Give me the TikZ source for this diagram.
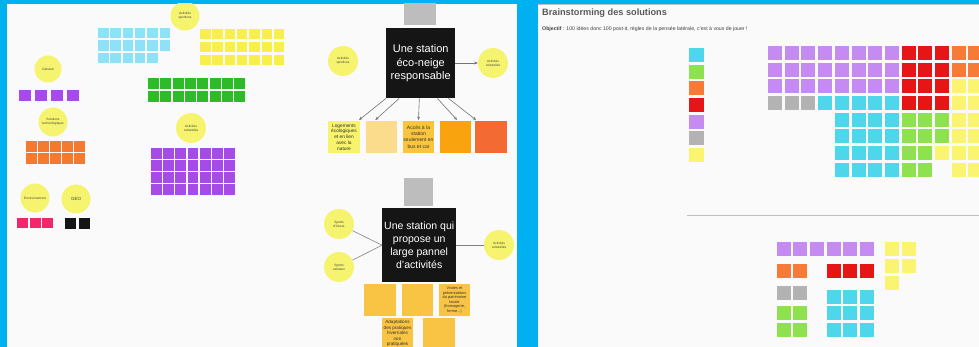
\documentclass[tikz,border=0pt]{standalone}
\usepackage{fontspec}
\setmainfont{Liberation Sans}
\usetikzlibrary{arrows.meta,calc}
\definecolor{bg}{HTML}{00B0F0}
\definecolor{panel}{HTML}{FAFAFA}
\definecolor{circY}{HTML}{F6F46E}
\definecolor{cyanL}{HTML}{8FE1F7}
\definecolor{yelL}{HTML}{F9EF4B}
\definecolor{greenL}{HTML}{2DBB2A}
\definecolor{purL}{HTML}{A74BE8}
\definecolor{oraL}{HTML}{F47A30}
\definecolor{pinkL}{HTML}{F0286B}
\definecolor{blackL}{HTML}{151515}
\definecolor{grayN}{HTML}{BDBDBD}
\definecolor{nA}{HTML}{F7F36B}
\definecolor{nB}{HTML}{FBDB8C}
\definecolor{nC}{HTML}{F9C53E}
\definecolor{nD}{HTML}{F9A30F}
\definecolor{nE}{HTML}{F36B33}
\definecolor{oraB}{HTML}{F9C443}
\definecolor{cyanR}{HTML}{4ED6EA}
\definecolor{greenR}{HTML}{8EE24F}
\definecolor{oraR}{HTML}{F77A37}
\definecolor{redR}{HTML}{E71616}
\definecolor{purR}{HTML}{C58BF3}
\definecolor{grayR}{HTML}{B3B3B3}
\definecolor{yelR}{HTML}{FAF470}
\newcommand{\fsz}[2]{\fontsize{#1}{#2}\selectfont}
\begin{document}
\begin{tikzpicture}[x=1pt,y=-1pt,
  note/.style={anchor=north west,inner sep=0pt,outer sep=0pt,draw=none},
  circ/.style={circle,fill=circY,inner sep=0pt,minimum size=29pt,align=center,font=\fsz{3.2}{3.8},text=black!75},
  bigbox/.style={anchor=north west,fill=blackL,text=white,align=center,inner sep=0pt},
  txtnote/.style={note,align=center,text=black!80},
  arr/.style={-{Stealth[length=3.5pt,width=3pt]},draw=black!55,line width=0.6pt},
  lnk/.style={draw=black!50,line width=0.6pt}]
\useasboundingbox (0,0) rectangle (979,347);
\fill[bg] (0,0) rectangle (979,347);
% ---------- left panel ----------
\fill[panel] (7,4) rectangle (517,347);
\begin{scope}
\clip (7,4) rectangle (517,347);
% circles
\node[circ] (sport1) at (185,16) {Activités\\sportives};
\node[circ,minimum size=27pt] (gen) at (48,69) {Général};
\node[circ] (tech) at (53,122) {Solutions\\technologiques};
\node[circ,minimum size=30pt] (cult1) at (191,128) {Activités\\culturelles};
\node[circ] (env) at (35,198) {Environnement};
\node[circ,font=\fsz{4.5}{5}] (geo) at (76,199) {GEO};
% cyan grid
\foreach \c in {0,...,5}{\foreach \r in {0,1}{
  \node[note,fill=cyanL,minimum size=10.5pt] (cy\c\r) at ({98+12.3*\c},{28+12.4*\r}) {};}}
\foreach \c in {0,...,4}{
  \node[note,fill=cyanL,minimum size=10.5pt] (cy\c2) at ({98+12.3*\c},{52.8}) {};}
% yellow grid
\foreach \c in {0,...,6}{\foreach \r in {0,1,2}{
  \node[note,fill=yelL,minimum size=10.5pt] (ye\c\r) at ({200+12.3*\c},{29+12.8*\r}) {};}}
% green grid
\foreach \c in {0,...,7}{\foreach \r in {0,1}{
  \node[note,fill=greenL,minimum size=11pt] (gr\c\r) at ({148+12.3*\c},{78+12.6*\r}) {};}}
% purple grid
\foreach \c in {0,...,6}{\foreach \r in {0,...,3}{
  \node[note,fill=purL,minimum size=10.8pt] (pu\c\r) at ({151+12.2*\c},{148+12*\r}) {};}}
% orange grid
\foreach \c in {0,...,4}{\foreach \r in {0,1}{
  \node[note,fill=oraL,minimum size=11pt] (or\c\r) at ({26+12*\c},{141+12*\r}) {};}}
% general purples
\foreach \x [count=\i] in {19,35,51,67}{
  \node[note,fill=purL,minimum size=11.5pt] (gp\i) at (\x,90) {};}
% pink and black
\foreach \x [count=\i] in {17,30,42}{
  \node[note,fill=pinkL,minimum size=10.5pt] (pk\i) at (\x,218) {};}
\foreach \x [count=\i] in {65,79}{
  \node[note,fill=blackL,minimum size=11pt] (bk\i) at (\x,218) {};}
% ---- cluster 1 ----
\node[note,fill=grayN,minimum width=32pt,minimum height=25pt] (g1) at (404,0) {};
\node[bigbox,minimum width=69pt,minimum height=70pt,font=\fsz{11}{13.5}] (b1) at (386,28) {Une station\\éco-neige\\responsable};
\node[circ,minimum size=30pt] (sp2) at (343,61) {Activités\\sportives};
\node[circ,minimum size=30pt] (cu2) at (493,63) {Activités\\culturelles};
\draw[arr] (b1.east |- cu2) -- (cu2);
\node[txtnote,fill=nA,minimum width=32pt,minimum height=32pt,font=\fsz{4.8}{5.8}] (n1) at (328,121) {Logements\\écologiques\\et en lien\\avec la\\nature};
\node[note,fill=nB,minimum width=31pt,minimum height=32pt] (n2) at (366,121) {};
\node[txtnote,fill=nC,minimum width=31pt,minimum height=32pt,font=\fsz{5}{6.3}] (n3) at (403,121) {Accès à la\\station\\seulement en\\bus et car};
\node[note,fill=nD,minimum width=31pt,minimum height=32pt] (n4) at (440,121) {};
\node[note,fill=nE,minimum width=32pt,minimum height=32pt] (n5) at (475,121) {};
\coordinate (s1) at ($(b1.south west)!0.0!(b1.south east)$);
\coordinate (s2) at ($(b1.south west)!0.19!(b1.south east)$);
\coordinate (s3) at ($(b1.south west)!0.48!(b1.south east)$);
\coordinate (s4) at ($(b1.south west)!0.74!(b1.south east)$);
\coordinate (s5) at ($(b1.south west)!0.9!(b1.south east)$);
\draw[arr] (s1) -- ($(n1.north east)+(-1,-1)$);
\draw[arr] (s2) -- ($(n2.north west)!0.3!(n2.north east)+(0,-1)$);
\draw[arr] (s3) -- ($(n3.north)+(0,-1)$);
\draw[arr] (s4) -- ($(n4.north west)!0.55!(n4.north east)+(0,-1)$);
\draw[arr] (s5) -- ($(n5.north west)+(1,-1)$);
% ---- cluster 2 ----
\node[note,fill=grayN,minimum width=29pt,minimum height=28pt] (g2) at (404,178) {};
\node[bigbox,minimum width=74pt,minimum height=74pt,font=\fsz{10.5}{13}] (b2) at (382,208) {Une station qui\\propose un\\large pannel\\d'activités};
\node[circ,minimum size=30pt] (hiv) at (339,224) {Sports\\d'hivers};
\node[circ,minimum size=30pt] (est) at (339,267) {Sports\\estivaux};
\node[circ,minimum size=30pt] (cu3) at (499,245) {Activités\\culturelles};
\draw[lnk] (hiv) -- (b2.west);
\draw[lnk] (est) -- (b2.west);
\draw[lnk] (b2.east |- cu3) -- (cu3);
\node[note,fill=oraB,minimum width=32pt,minimum height=32pt] (m1) at (364,284) {};
\node[note,fill=oraB,minimum width=31pt,minimum height=32pt] (m2) at (402,284) {};
\node[txtnote,fill=oraB,minimum width=31pt,minimum height=32pt,font=\fsz{3.9}{4.6}] (m3) at (439,284) {Visites et\\présentations\\du patrimoine\\locale\\(fromagerie,\\ferme...)};
\node[note,fill=oraB,minimum width=31pt,minimum height=34pt] (m4) at (382,318) {};
\node[anchor=north,align=center,inner sep=0pt,text=black!80,font=\fsz{4.6}{5.5}] (m4t) at ($(m4.north)+(0,2)$) {Adaptations\\des pratiques\\hivernales\\non\\pratiquées};
\node[note,fill=oraB,minimum width=32pt,minimum height=32pt] (m5) at (423,318) {};
\end{scope}
% ---------- right panel ----------
\fill[panel] (538,4) rectangle (979,347);
\draw[black!25,line width=0.6pt] (538,4.3) -- (979,4.3);
\node[anchor=west,font=\bfseries\fsz{9.2}{11},text=black!65,inner sep=0pt] (title) at (542,13) {Brainstorming des solutions};
\node[anchor=west,font=\fsz{5.2}{6},text=black!75,inner sep=0pt] (obj) at (542,29) {\textbf{Objectif} : 100 idées donc 100 post-it, règles de la pensée latérale, c'est à vous de jouer !};
% legend
\foreach \col [count=\i from 0] in {cyanR,greenR,oraR,redR,purR,grayR,yelR}{
  \node[note,fill=\col,minimum width=15pt,minimum height=14pt] (lg\i) at (689,{48+16.7*\i}) {};}
\begin{scope}
\clip (538,4) rectangle (979,347);
% big grid
\newcommand{\cell}[3]{\node[note,fill=#1,minimum size=14pt] (bg#2x#3) at ({768+16.7*#2},{46+16.7*#3}) {};}
\foreach \c in {0,...,7}{\foreach \r in {0,1,2}{\cell{purR}{\c}{\r}}}
\foreach \c in {0,1,2}{\cell{grayR}{\c}{3}}
\foreach \c in {3,...,7}{\cell{cyanR}{\c}{3}}
\foreach \c in {4,...,7}{\foreach \r in {4,...,7}{\cell{cyanR}{\c}{\r}}}
\foreach \c in {8,9,10}{\foreach \r in {0,...,3}{\cell{redR}{\c}{\r}}}
\foreach \c in {8,9,10}{\foreach \r in {4,5}{\cell{greenR}{\c}{\r}}}
\foreach \c in {8,9}{\foreach \r in {6,7}{\cell{greenR}{\c}{\r}}}
\cell{yelR}{10}{6}
\foreach \c in {11,12}{\foreach \r in {0,1}{\cell{oraR}{\c}{\r}}}
\foreach \c in {11,12}{\foreach \r in {2,...,7}{\cell{yelR}{\c}{\r}}}
\end{scope}
\draw[black!25,line width=0.8pt] (687,215) -- (979,215);
% bottom group
\newcommand{\bcell}[4]{\node[note,fill=#1,minimum size=14pt] (#2) at (#3,#4) {};}
\foreach \x [count=\i] in {777,793,810,827,843,860}{\bcell{purR}{bp\i}{\x}{242}}
\bcell{yelR}{by1}{885}{242}\bcell{yelR}{by2}{902}{242}
\bcell{yelR}{by3}{885}{259}\bcell{yelR}{by4}{902}{259}
\bcell{yelR}{by5}{885}{276}
\bcell{oraR}{bo1}{777}{264}\bcell{oraR}{bo2}{793}{264}
\foreach \x [count=\i] in {827,843,860}{\bcell{redR}{br\i}{\x}{264}}
\bcell{grayR}{bgy1}{777}{286}\bcell{grayR}{bgy2}{793}{286}
\foreach \y [count=\j] in {306,323}{\foreach \x [count=\i] in {777,793}{\bcell{greenR}{bgn\i\j}{\x}{\y}}}
\foreach \y [count=\j] in {290,306,323}{\foreach \x [count=\i] in {827,843,860}{\bcell{cyanR}{bcy\i\j}{\x}{\y}}}
\end{tikzpicture}
\end{document}
